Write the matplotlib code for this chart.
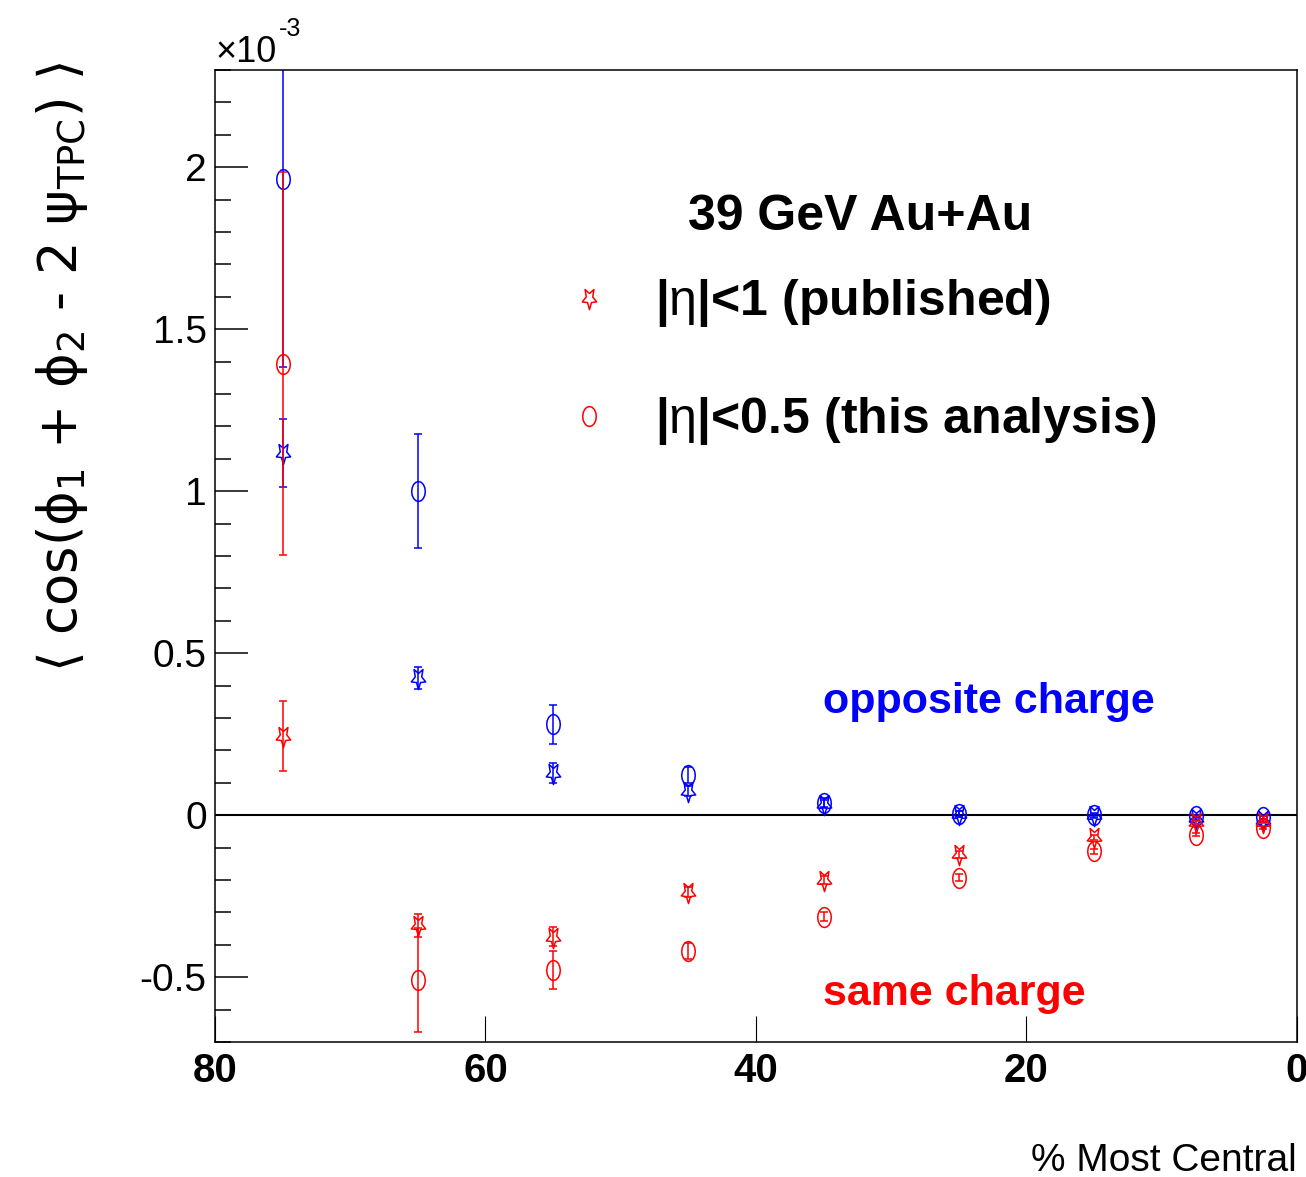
#!/usr/bin/env python3
"""
Charge-dependent azimuthal correlator vs centrality, 39 GeV Au+Au.
Output: out.png
"""

import matplotlib
matplotlib.use("Agg")
import matplotlib.pyplot as plt
import numpy as np
from matplotlib.font_manager import FontProperties
from matplotlib.lines import Line2D
from matplotlib.path import Path
from matplotlib.ticker import FixedLocator, FuncFormatter, MultipleLocator

# centrality bin centres (% most central)
CENT = [75, 65, 55, 45, 35, 25, 15, 7.5, 2.5]

# values in units of 1e-3
OPP_PUB = [1.117, 0.423, 0.130, 0.074, 0.036, 0.004, 0.000, -0.010, -0.016]
OPP_PUB_ERR = [0.105, 0.035, 0.030, 0.015, 0.010, 0.008, 0.005, 0.004, 0.004]
OPP_THIS = [1.964, 1.001, 0.280, 0.125, 0.038, 0.003, 0.000, -0.003, -0.007]
OPP_THIS_ERR = [0.580, 0.175, 0.060, 0.025, 0.015, 0.010, 0.008, 0.005, 0.005]
SAME_PUB = [0.244, -0.340, -0.375, -0.237, -0.200, -0.121, -0.068, -0.022, -0.020]
SAME_PUB_ERR = [0.108, 0.035, 0.030, 0.015, 0.012, 0.010, 0.008, 0.005, 0.005]
SAME_THIS = [1.394, -0.508, -0.478, -0.419, -0.313, -0.193, -0.111, -0.060, -0.039]
SAME_THIS_ERR = [0.590, 0.160, 0.058, 0.025, 0.015, 0.010, 0.008, 0.005, 0.005]

X_TICKS = [0, 20, 40, 60, 80]
Y_MAJOR = [-0.5, 0, 0.5, 1, 1.5, 2]

BLUE = "#0000ff"
RED = "#ff0000"
FAMILY = "Liberation Sans"

plt.rcParams["axes.unicode_minus"] = False
plt.rcParams["mathtext.fontset"] = "custom"
plt.rcParams["mathtext.rm"] = FAMILY
plt.rcParams["mathtext.it"] = FAMILY
plt.rcParams["mathtext.bf"] = FAMILY + ":bold"


def ellipse_marker():
    t = np.linspace(0, 2 * np.pi, 17)
    verts = np.column_stack([0.68 * np.sin(t), np.cos(t)])
    return Path(verts, closed=True)


def star_marker():
    k = np.arange(11)
    ang = np.deg2rad(-90 + k * 36)
    r = np.where(k % 2 == 0, 1.0, 0.45)
    verts = np.column_stack([0.68 * r * np.cos(ang), r * np.sin(ang)])
    return Path(verts, closed=True)


CIRCLE = ellipse_marker()
STAR = star_marker()

fig = plt.figure(figsize=(13.06, 11.77), dpi=100)
ax = fig.add_axes([0.1646, 0.1147, 0.8285, 0.8258])

series = [
    (OPP_THIS, OPP_THIS_ERR, CIRCLE, BLUE, 14.4),
    (OPP_PUB, OPP_PUB_ERR, STAR, BLUE, 16),
    (SAME_THIS, SAME_THIS_ERR, CIRCLE, RED, 14.4),
    (SAME_PUB, SAME_PUB_ERR, STAR, RED, 16),
]
for vals, errs, marker, color, ms in series:
    ax.errorbar(CENT, vals, yerr=errs, fmt="none", ecolor=color,
                elinewidth=1.1, capsize=3, capthick=1.1)
    ax.plot(CENT, vals, ls="none", marker=marker, ms=ms, mfc="none",
            mec=color, mew=1.1)

ax.axhline(0, color="black", lw=1.5, zorder=1)

ax.set_xlim(80, 0)
ax.set_ylim(-0.7, 2.3)

for s in ax.spines.values():
    s.set_linewidth(1.1)

ax.xaxis.set_major_locator(FixedLocator(X_TICKS))
ax.xaxis.set_major_formatter(FuncFormatter(lambda v, _: f"{v:g}"))
ax.yaxis.set_major_locator(FixedLocator(Y_MAJOR))
ax.yaxis.set_minor_locator(MultipleLocator(0.1))
ax.yaxis.set_major_formatter(FuncFormatter(lambda v, _: f"{v:g}"))
ax.tick_params(axis="x", which="both", direction="in", length=19, width=0.8,
               top=False, pad=7)
ax.tick_params(axis="y", which="major", direction="in", length=24, width=1.1,
               right=False, pad=6)
ax.tick_params(axis="y", which="minor", direction="in", length=11.5, width=1.1,
               right=False)
for lab in ax.get_xticklabels():
    lab.set_fontproperties(FontProperties(family=FAMILY, weight="bold", size=29))
for lab in ax.get_yticklabels():
    lab.set_fontproperties(FontProperties(family=FAMILY, size=28))

# header and legend
ax.text(0.596, 0.8354, "39 GeV Au+Au", transform=ax.transAxes, ha="center",
        va="baseline", fontproperties=FontProperties(family=FAMILY, weight="bold", size=36))
handles = [
    Line2D([], [], ls="none", marker=STAR, ms=16, mfc="none", mec=RED, mew=1.1),
    Line2D([], [], ls="none", marker=CIRCLE, ms=14.4, mfc="none", mec=RED, mew=1.1),
]
labels = [r"|$\eta$|<1 (published)", r"|$\eta$|<0.5 (this analysis)"]
ax.legend(handles, labels, loc="upper left", bbox_to_anchor=(0.3226, 0.787),
          frameon=False, borderpad=0, borderaxespad=0, handlelength=1.0,
          handletextpad=0.82, labelspacing=1.32,
          prop=FontProperties(family=FAMILY, weight="bold", size=36))

ax.text(0.562, 0.3385, "opposite charge", transform=ax.transAxes, color=BLUE,
        fontproperties=FontProperties(family=FAMILY, weight="bold", size=31),
        va="baseline", ha="left")
ax.text(0.562, 0.038, "same charge", transform=ax.transAxes, color=RED,
        fontproperties=FontProperties(family=FAMILY, weight="bold", size=31),
        va="baseline", ha="left")

fig.text(0.993, 0.005, "% Most Central", ha="right", va="baseline",
         fontproperties=FontProperties(family=FAMILY, size=28))

# axis multiplier, exponent placed right after the base
t10 = fig.text(215 / 1306, 1 - 62 / 1177, "\u00d710", ha="left", va="baseline",
               fontproperties=FontProperties(family=FAMILY, size=26))
bb = t10.get_window_extent(fig.canvas.get_renderer())
fig.text(bb.x1 / fig.bbox.width + 0.002, 1 - 36 / 1177, "-3", ha="left",
         va="baseline", fontproperties=FontProperties(family=FAMILY, size=18))

fig.text(0.0475, 0.688,
         "\u27e8 cos(\u03d5$_{1}$ + \u03d5$_{2}$ - 2 \u03c8$_{\\mathrm{TPC}}$) \u27e9",
         rotation=90, ha="center", va="center",
         family=["DejaVu Sans"], fontsize=38, math_fontfamily="dejavusans")

fig.savefig("out.png", dpi=100)
